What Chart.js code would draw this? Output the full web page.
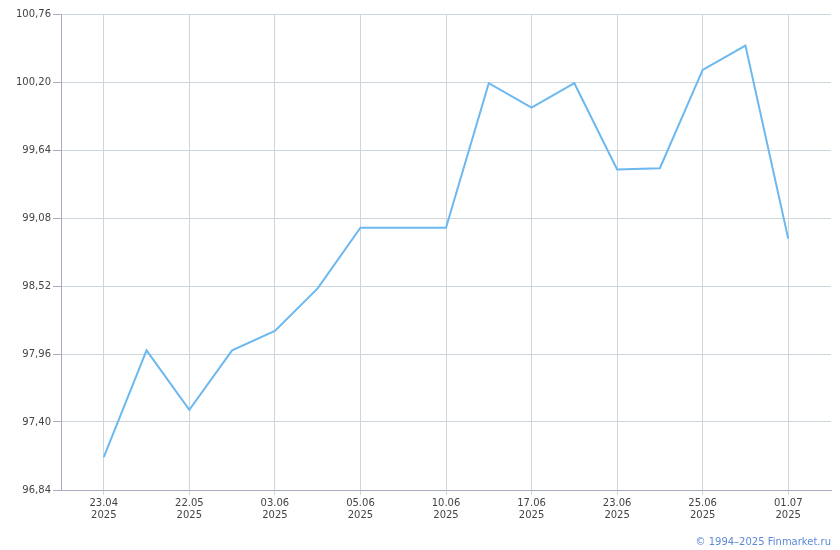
<!DOCTYPE html>
<html>
<head>
<meta charset="utf-8">
<script src="https://cdn.jsdelivr.net/npm/chart.js@4/dist/chart.umd.min.js"></script>
<style>
    html, body { margin: 0; padding: 0; background: #fff; }
    #wrap { position: relative; width: 840px; height: 550px; }
    #copy {
        position: absolute; right: 9px; top: 536px;
        font: 10px "DejaVu Sans", Verdana, sans-serif; color: #5c8ad8;
    }
</style>
</head>
<body>
<div id="wrap">
    <canvas id="priceChart" width="840" height="550"></canvas>
    <div id="copy">© 1994–2025 Finmarket.ru</div>
</div>
<script>
// Значения (цена, %)
const prices = [97.11, 97.99, 97.50, 97.99, 98.15, 98.50, 99.00, 99.00, 99.00,
                100.19, 99.99, 100.19, 99.48, 99.49, 100.30, 100.50, 98.91];

// Подписи оси X (каждая вторая точка)
const dateLabels = ['23.04', '22.05', '03.06', '05.06', '10.06', '17.06', '23.06', '25.06', '01.07'];
const yearLabel = '2025';

// Ось Y
const yMin = 96.84;
const yMax = 100.76;
const yStep = 0.56;

const gridColor = '#ccd6dd';
const axisColor = '#a6acbd';
const textColor = '#444';

document.addEventListener('DOMContentLoaded', function() {
    const ctx = document.getElementById('priceChart').getContext('2d');
    new Chart(ctx, {
        type: 'line',
        data: {
            datasets: [{
                data: prices.map((v, i) => ({ x: i, y: v })),
                borderColor: '#6cb8f0',
                borderWidth: 2,
                pointRadius: 0,
                tension: 0,
                fill: false
            }]
        },
        options: {
            responsive: false,
            animation: false,
            layout: { padding: { top: 14, right: 9, left: 0, bottom: 0 } },
            plugins: { legend: { display: false }, tooltip: { enabled: false } },
            scales: {
                x: {
                    type: 'linear',
                    min: -1,
                    max: prices.length,
                    afterBuildTicks: function(scale) {
                        scale.ticks = dateLabels.map((d, i) => ({ value: i * 2 }));
                    },
                    afterFit: function(scale) { scale.height = 60; },
                    ticks: {
                        autoSkip: false,
                        maxRotation: 0,
                        color: textColor,
                        font: { family: '"DejaVu Sans", Verdana, sans-serif', size: 10 },
                        padding: 2,
                        callback: function(value) {
                            return [dateLabels[value / 2], yearLabel];
                        }
                    },
                    grid: { color: gridColor, tickColor: gridColor, tickLength: 5 },
                    border: { color: axisColor }
                },
                y: {
                    min: yMin,
                    max: yMax,
                    afterBuildTicks: function(scale) {
                        const ticks = [];
                        for (let i = 0; yMin + i * yStep <= yMax + 1e-6; i++) {
                            ticks.push({ value: +(yMin + i * yStep).toFixed(2) });
                        }
                        scale.ticks = ticks;
                    },
                    afterFit: function(scale) { scale.width = 61; },
                    ticks: {
                        color: textColor,
                        font: { family: '"DejaVu Sans", Verdana, sans-serif', size: 10 },
                        padding: 2,
                        callback: function(value) {
                            return value.toFixed(2).replace('.', ',');
                        }
                    },
                    grid: { color: gridColor, tickColor: axisColor, tickLength: 8 },
                    border: { color: axisColor }
                }
            }
        }
    });
});
</script>
</body>
</html>
